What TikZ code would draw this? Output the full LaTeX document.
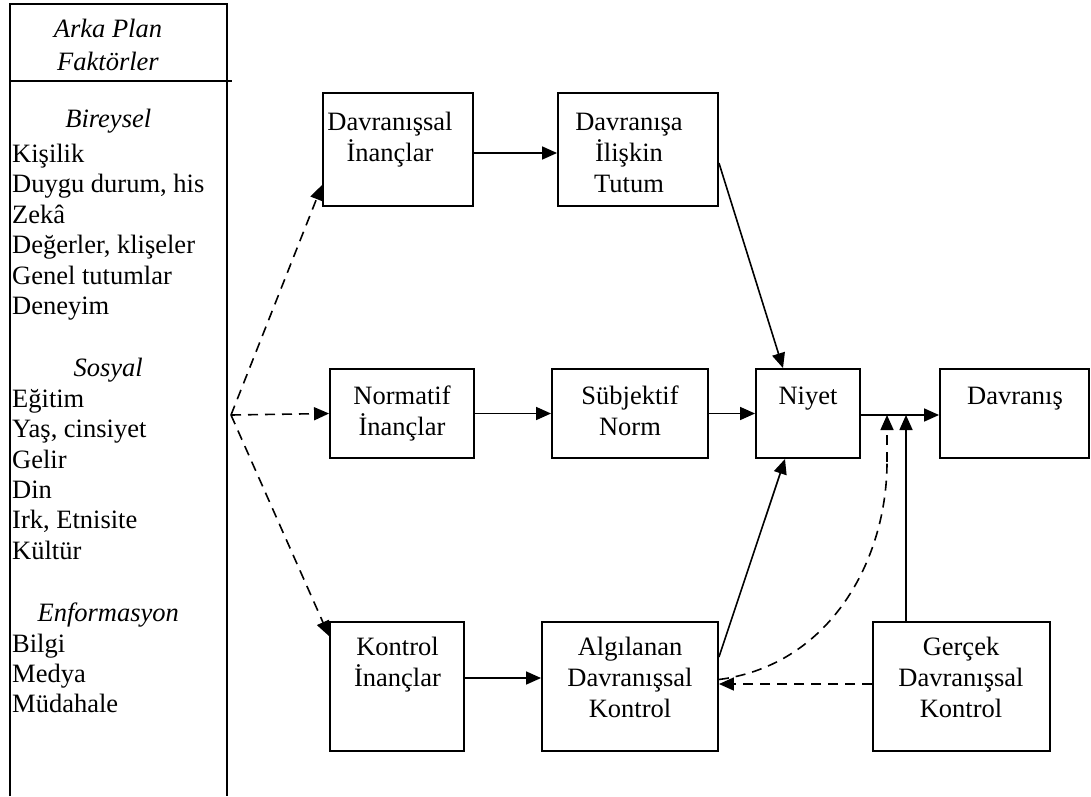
\documentclass[tikz,border=0pt]{standalone}
\usepackage{fontspec}
\setmainfont{Liberation Serif}
\usetikzlibrary{arrows.meta,calc}
\newcommand\mylines[1]{\vtop{\halign{\hfil##\hfil\cr#1\crcr}}}
\newcommand\myhead[1]{\omit\hfil\itshape #1\hfil}
\newcommand\leftlist{\vtop{\halign{##\hfil\cr
\myhead{Bireysel}\cr\noalign{\vskip5pt}
Kişilik\cr
Duygu durum, his\cr
Zekâ\cr
Değerler, klişeler\cr
Genel tutumlar\cr
Deneyim\cr\noalign{\vskip32pt}
\myhead{Sosyal}\cr
Eğitim\cr
Yaş, cinsiyet\cr
Gelir\cr
Din\cr
Irk, Etnisite\cr
Kültür\cr\noalign{\vskip32pt}
\myhead{Enformasyon}\cr
Bilgi\cr
Medya\cr
Müdahale\crcr}}}
\begin{document}
\begin{tikzpicture}[x=1pt,y=-1pt,
  box/.style={draw, line width=1.9pt, inner sep=0pt, rectangle},
  txt/.style={inner sep=0pt, anchor=base, font=\fontsize{26.5}{31}\selectfont},
  conn/.style={line width=1.6pt, -{Triangle[length=15pt,width=13pt]}},
  dconn/.style={conn, dash pattern=on 10pt off 7pt},
  panel/.style={line width=2.3pt}]
\fill[white] (0,0) rectangle (1091,796);
\useasboundingbox (0,0) rectangle (1091,796);

% left panel
\draw[panel] (10,796) -- (10,4) -- (227,4) -- (227,796);
\draw[line width=1.8pt] (10,81) -- (232,81);
\node[inner sep=0pt, anchor=base, font=\fontsize{26.5}{33}\selectfont\itshape] (hdr) at (108,37) {\mylines{Arka Plan\cr Faktörler}};
\node[inner sep=0pt, anchor=base west, font=\fontsize{26.5}{30.4}\selectfont] (list) at (12,127) {\leftlist};
\coordinate (src) at (231,415);

% boxes
\node[box, minimum width=150, minimum height=113] (DI) at (398,149.5) {};
\node[box, minimum width=160, minimum height=113] (DT) at (638,149.5) {};
\node[box, minimum width=144, minimum height=89] (NI) at (402,413.5) {};
\node[box, minimum width=156, minimum height=89] (SN) at (630,413.5) {};
\node[box, minimum width=104, minimum height=89] (NY) at (808,413.5) {};
\node[box, minimum width=149, minimum height=89] (DV) at (1014.5,413.5) {};
\node[box, minimum width=134, minimum height=129] (KI) at (397,686.5) {};
\node[box, minimum width=176, minimum height=129] (AL) at (630,686.5) {};
\node[box, minimum width=177, minimum height=129] (GC) at (961.5,686.5) {};

% texts
\node[txt] (tDI) at (390,130) {\mylines{Davranışsal\cr İnançlar}};
\node[txt] (tDT) at (629,130) {\mylines{Davranışa\cr İlişkin\cr Tutum}};
\node[txt] (tNI) at (402,404) {\mylines{Normatif\cr İnançlar}};
\node[txt] (tSN) at (630,404) {\mylines{Sübjektif\cr Norm}};
\node[txt] (tNY) at (808,404) {Niyet};
\node[txt] (tDV) at (1015,404) {Davranış};
\node[txt] (tKI) at (397.5,655) {\mylines{Kontrol\cr İnançlar}};
\node[txt] (tAL) at (630,655) {\mylines{Algılanan\cr Davranışsal\cr Kontrol}};
\node[txt] (tGC) at (961,655) {\mylines{Gerçek\cr Davranışsal\cr Kontrol}};

% connectors
\coordinate (j1) at (887,415);
\coordinate (j2) at (906,415);
\draw[dconn] (src) -- ([yshift=-35.5pt]DI.west);
\draw[dconn] (src) -- (NI.west);
\draw[dconn] (src) -- ([yshift=-15pt]KI.north west);
\draw[conn] ([yshift=-3.5pt]DI.east) -- ([yshift=-3.5pt]DT.west);
\draw[conn] ([yshift=-13.5pt]DT.east) -- ([xshift=-25pt]NY.north);
\draw[conn] (NI.east) -- (SN.west);
\draw[conn] (SN.east) -- (NY.west);
\draw[conn] ([yshift=-1.5pt]NY.east) -- ([yshift=-1.5pt]DV.west);
\draw[conn] ([yshift=8.5pt]KI.east) -- ([yshift=8.5pt]AL.west);
\draw[conn] ([yshift=29.5pt]AL.east) -- ([xshift=-23pt]NY.south);
\draw[dconn] ([yshift=2.5pt]GC.west) -- ([yshift=2.5pt]AL.east);
\draw[dconn, -] ([yshift=7pt]AL.east) .. controls (830,665) and (887,560) .. (887,462);
\draw[dconn] (887,462) -- (j1);
\draw[conn] ([xshift=-55.5pt]GC.north) -- (j2);
\end{tikzpicture}
\end{document}
